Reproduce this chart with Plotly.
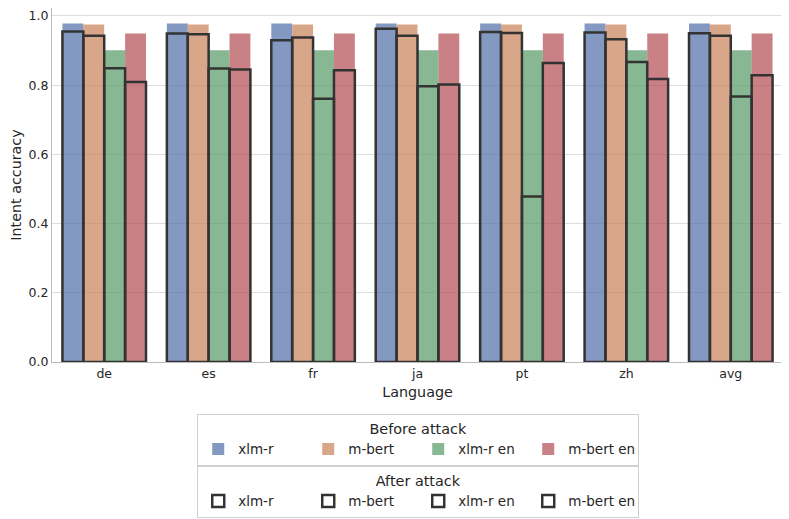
import plotly.graph_objects as go

# Datos
languages = ["de", "es", "fr", "ja", "pt", "zh", "avg"]
models = ["xlm-r", "m-bert", "xlm-r en", "m-bert en"]

before_xlmr = [0.978, 0.978, 0.978, 0.978, 0.978, 0.978, 0.978]
before_mbert = [0.975, 0.975, 0.975, 0.975, 0.975, 0.975, 0.975]
before_xlmr_en = [0.901, 0.901, 0.901, 0.901, 0.901, 0.901, 0.901]
before_mbert_en = [0.949, 0.949, 0.949, 0.949, 0.949, 0.949, 0.949]

after_xlmr = [0.955, 0.949, 0.930, 0.963, 0.954, 0.952, 0.950]
after_mbert = [0.943, 0.947, 0.938, 0.943, 0.951, 0.933, 0.943]
after_xlmr_en = [0.849, 0.848, 0.761, 0.797, 0.478, 0.867, 0.767]
after_mbert_en = [0.809, 0.845, 0.843, 0.802, 0.864, 0.818, 0.829]

before = [before_xlmr, before_mbert, before_xlmr_en, before_mbert_en]
after = [after_xlmr, after_mbert, after_xlmr_en, after_mbert_en]
colors = ["rgba(78,109,166,0.7)", "rgba(200,128,86,0.7)",
          "rgba(86,152,101,0.7)", "rgba(178,75,82,0.7)"]

fig = go.Figure()

# Barras antes del ataque (rellenas)
for i, (name, vals) in enumerate(zip(models, before)):
    fig.add_trace(go.Bar(
        x=languages, y=vals, name=name,
        width=0.2, offset=-0.4 + i * 0.2,
        marker=dict(color=colors[i], line=dict(width=0)),
        legend="legend",
    ))

# Barras después del ataque (solo contorno)
for i, (name, vals) in enumerate(zip(models, after)):
    fig.add_trace(go.Bar(
        x=languages, y=vals, name=name,
        width=0.2, offset=-0.4 + i * 0.2,
        marker=dict(color="rgba(255,255,255,0)",
                    line=dict(color="#333333", width=2.5)),
        legend="legend2",
    ))

legend_style = dict(
    orientation="h",
    xanchor="center", x=0.501,
    yanchor="top",
    bgcolor="white",
    bordercolor="#d0d0d0", borderwidth=1,
    font=dict(size=13.5, color="#262626"),
    entrywidth=65,
    tracegroupgap=0,
)

# la página añade 8 px de margen, así que se compensa aquí
fig.update_layout(
    barmode="overlay",
    width=781, height=511,
    margin=dict(l=44, r=6, t=0, b=157, autoexpand=False),
    paper_bgcolor="white",
    plot_bgcolor="white",
    font=dict(family="DejaVu Sans", size=12.5, color="#262626"),
    xaxis=dict(
        title=dict(text="Language", standoff=6, font=dict(size=14.3)),
        showline=True, linecolor="#bbbbbb", linewidth=1,
        ticks="", showgrid=False,
    ),
    yaxis=dict(
        title=dict(text="Intent accuracy", standoff=14, font=dict(size=14.3)),
        range=[0, 1.023],
        tickvals=[0, 0.2, 0.4, 0.6, 0.8, 1.0],
        tickformat=".1f",
        showline=True, linecolor="#bbbbbb", linewidth=1,
        gridcolor="#dddddd", gridwidth=1,
        zeroline=False, ticks="",
    ),
    legend=dict(y=-0.147,
                title=dict(text="Before attack", side="top center",
                           font=dict(size=14.4)),
                **legend_style),
    legend2=dict(y=-0.294,
                 title=dict(text="After attack", side="top center",
                            font=dict(size=14.4)),
                 **legend_style),
)

fig.write_html("out.html")
